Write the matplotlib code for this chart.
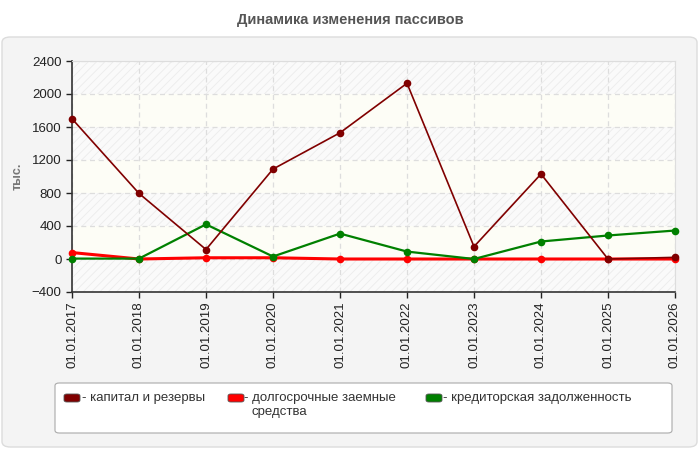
import matplotlib
matplotlib.use("Agg")
import matplotlib.pyplot as plt
from matplotlib.patches import FancyBboxPatch

plt.rcParams['font.family'] = ['Liberation Sans', 'DejaVu Sans']
plt.rcParams['hatch.linewidth'] = 0.6

dates = ["01.01.2017", "01.01.2018", "01.01.2019", "01.01.2020", "01.01.2021",
         "01.01.2022", "01.01.2023", "01.01.2024", "01.01.2025", "01.01.2026"]
capital = [1700, 795, 115, 1090, 1530, 2130, 150, 1030, 0, 20]
longterm = [78, 0, 15, 15, 0, 0, 0, 0, 0, 0]
payables = [5, 5, 420, 30, 308, 90, 0, 212, 285, 345]

series_names = ["капитал и резервы", "долгосрочные заемные\nсредства", "кредиторская задолженность"]
colors = ["#800000", "#ff0000", "#008000"]
yticks = [-400, 0, 400, 800, 1200, 1600, 2000, 2400]

fig = plt.figure(figsize=(7, 4.5), dpi=100)
fig.patch.set_facecolor("white")

# background panel
panel = FancyBboxPatch((2/700, 3/450), 695/700, 410/450,
                       boxstyle="round,pad=0,rounding_size=0.012",
                       transform=fig.transFigure, facecolor="#f4f4f4",
                       edgecolor="#dcdcdc", linewidth=1, zorder=-10)
fig.patches.append(panel)

fig.text(0.5, 1 - 20/450, "Динамика изменения пассивов", ha="center", va="center",
         fontsize=10.5, fontweight="bold", color="#555555")

ax = fig.add_axes([72/700, 1 - 292/450, 603/700, 231/450])
ax.set_zorder(1)
ax.set_facecolor("#fdfdf9")
x = list(range(len(dates)))
ax.set_xlim(0, len(dates) - 1)
ax.set_ylim(-400, 2400)

for i in range(len(yticks) - 1):
    lo, hi = yticks[i], yticks[i + 1]
    if i % 2 == 0:
        ax.axhspan(lo, hi, facecolor="#fafafa", edgecolor="#ececec", hatch="////",
                   linewidth=0, zorder=0)
    else:
        ax.axhspan(lo, hi, facecolor="#fdfdf6", linewidth=0, zorder=0)

ax.grid(True, color="#dddddd", linestyle=(0, (4, 3)), linewidth=0.9, zorder=1)
ax.set_axisbelow(True)

ax.plot(x, longterm, color=colors[1], lw=2.2, marker="o", ms=5.5, mew=0, zorder=3, clip_on=False)
ax.plot(x, payables, color=colors[2], lw=1.6, marker="o", ms=5.5, mew=0, zorder=4, clip_on=False)
ax.plot(x, capital, color=colors[0], lw=1.2, marker="o", ms=5.5, mew=0, zorder=5, clip_on=False)

ax.set_yticks(yticks)
ax.set_xticks(x)
ax.set_xticklabels(dates, rotation=90)
ax.tick_params(axis="both", labelsize=9.5, colors="#222222", length=4, width=1)
ax.tick_params(axis="x", pad=3)
for s in ["top", "right"]:
    ax.spines[s].set_color("#dddddd")
for s in ["left", "bottom"]:
    ax.spines[s].set_color("#333333")
    ax.spines[s].set_linewidth(1.2)

fig.text(18/700, 1 - 176/450, "тыс.", rotation=90, ha="center", va="center",
         fontsize=9, fontweight="bold", color="#777777")

# legend
leg = FancyBboxPatch((55/700, 1 - 433/450), 617/700, 50/450,
                     boxstyle="round,pad=0,rounding_size=0.006",
                     transform=fig.transFigure, facecolor="white",
                     edgecolor="#aaaaaa", linewidth=0.8, zorder=2)
fig.patches.append(leg)
positions = [(64, 84), (228, 246), (426, 445)]
for (sx, tx), name, c in zip(positions, series_names, colors):
    sw = FancyBboxPatch((sx/700, 1 - 402/450), 16/700, 8/450,
                        boxstyle="round,pad=0,rounding_size=0.004",
                        transform=fig.transFigure, facecolor=c,
                        edgecolor="#555555", linewidth=0.6, zorder=3)
    fig.patches.append(sw)
    lines = name.split("\n")
    fig.text((tx - 2)/700, 1 - 398/450, "- " + lines[0], ha="left", va="center",
             fontsize=9.5, color="#333333")
    if len(lines) > 1:
        fig.text((tx + 5)/700, 1 - 412/450, lines[1], ha="left", va="center",
                 fontsize=9.5, color="#333333")

fig.savefig("out.png", dpi=100, facecolor=fig.get_facecolor())
